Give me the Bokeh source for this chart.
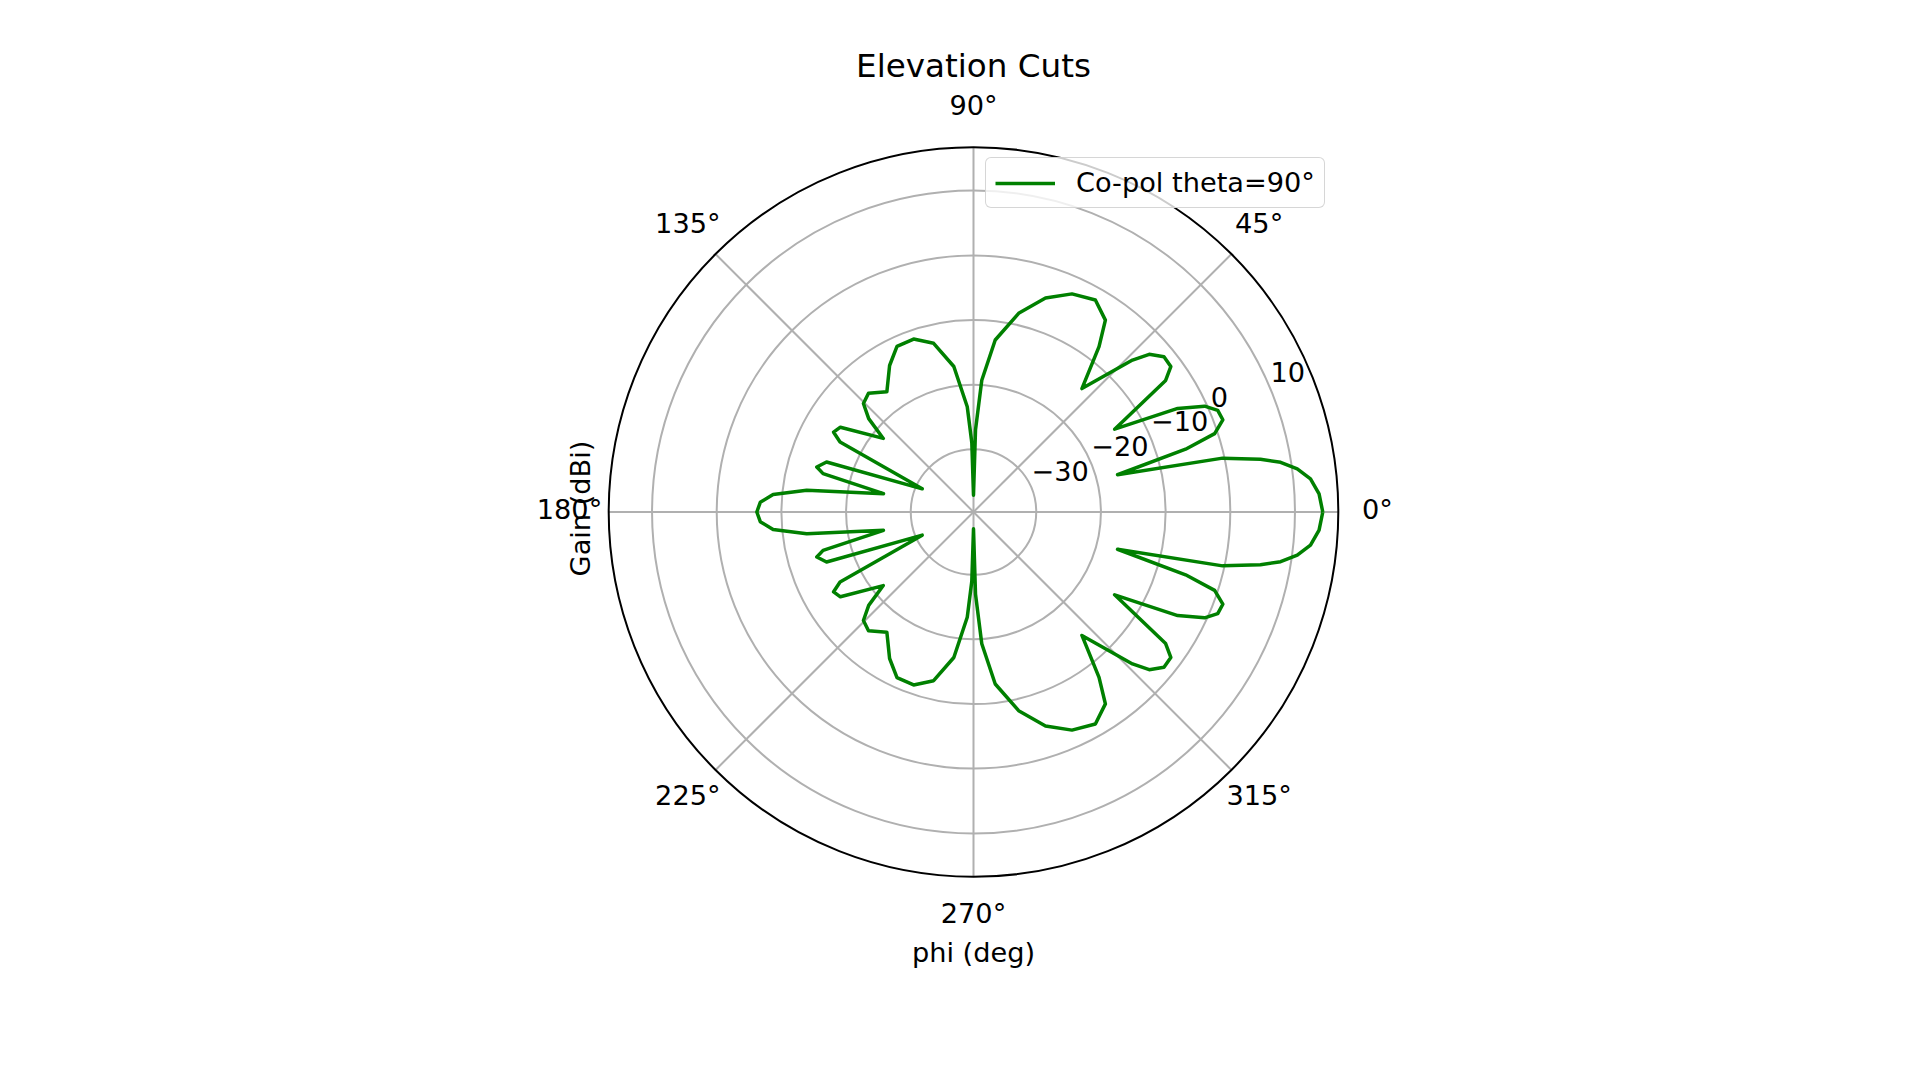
import numpy as np
from bokeh.plotting import figure
from bokeh.models import Range1d, Legend, LegendItem
from bokeh.embed import file_html
from bokeh.resources import INLINE
from bokeh.core.properties import value

# ---------------- data ----------------
title_text = "Elevation Cuts"
x_label = "phi (deg)"
y_label = "Gain (dBi)"
series_name = "Co-pol theta=90°"

# upper half of the cut (phi 0..180 deg), gain in dBi
phi_upper = [0.0, 3.0, 5.6, 7.6, 9.2, 10.4, 12.2, 14.5, 16.5, 18.0, 20.3, 22.6, 24.6, 26.9,
             30.4, 34.4, 36.4, 39.2, 41.9, 43.7, 48.7, 52.8, 55.5, 60.1, 65.7, 71.4,
             77.2, 82.8, 86.4, 88.6, 90.0, 91.4, 93.4, 97.7, 103.3, 109.1, 114.8,
             119.8, 125.8, 131.5, 135.4, 138.3, 140.8, 147.5, 150.3, 152.3, 155.7,
             161.2, 164.0, 165.7, 168.5, 172.6, 175.0, 177.4, 180.0]
gain_upper = [14.3, 13.8, 12.65, 10.8, 8.4, 5.4, -0.3, -16.7, -5.5, -0.5, 1.4, 1.2, -0.4, -4.3,
              -14.4, -3.7, -1.8, -1.7, -3.2, -5.7, -14.3, -7.6, -3.7, -1.9, -2.7, -4.8,
              -8.2, -12.9, -19.3, -27.0, -37.1, -29.0, -23.4, -17.0, -12.9, -11.4, -11.5,
              -13.6, -16.8, -15.2, -15.8, -18.0, -21.7, -15.3, -14.8, -16.4, -31.0,
              -15.7, -14.5, -15.7, -25.5, -13.7, -8.6, -6.7, -6.2]

# lower half of the cut (phi 180..360 deg)
phi_lower = [182.6, 185.0, 187.4, 191.5, 194.3, 196.0, 198.8, 204.3, 207.7, 209.7, 212.5,
             219.2, 221.7, 224.6, 228.5, 234.2, 240.2, 245.2, 250.9, 256.7, 262.3, 266.6,
             268.6, 270.0, 271.4, 273.6, 277.2, 282.8, 288.6, 294.3, 299.9, 304.5, 307.2,
             311.3, 316.3, 318.1, 320.8, 323.6, 325.6, 329.6, 333.1, 335.4, 337.4, 339.7,
             342.0, 343.5, 345.5, 347.8, 349.6, 350.8, 352.4, 354.4, 357.0, 360.0]
gain_lower = [-6.7, -8.6, -13.7, -25.5, -15.7, -14.5, -15.7, -31.0, -16.4, -14.8, -15.3,
              -21.7, -18.0, -15.8, -15.2, -16.8, -13.6, -11.5, -11.4, -12.9, -17.0, -23.4,
              -29.0, -37.1, -27.0, -19.3, -12.9, -8.2, -4.8, -2.7, -1.9, -3.7, -7.6,
              -14.3, -5.7, -3.2, -1.7, -1.8, -3.7, -14.4, -4.3, -0.4, 1.2, 1.4,
              -0.5, -5.5, -16.7, -0.3, 5.4, 8.4, 10.8, 12.65, 13.8, 14.3]

r_ticks = [-30, -20, -10, 0, 10]
r_tick_labels = ["\u221230", "\u221220", "\u221210", "0", "10"]
angle_ticks = [0, 45, 90, 135, 180, 225, 270, 315]
angle_tick_labels = ["0°", "45°", "90°", "135°", "180°", "225°", "270°", "315°"]
r_min, r_max = -39.7, 16.7

# ---------------- geometry (screenshot pixels) ----------------
W, H = 1904, 1064
OFF = 0                        # where the canvas lands in the screenshot
CX, CY = 973.0, 511.5          # centre of the polar axes
R_OUT = 364.8                  # outer radius in pixels
S = R_OUT / (r_max - r_min)    # pixels per dB


def dx(px):
    return (px - CX) / S


def dy(py):
    return (CY - py) / S


FONT_NAME = "DejaVu Sans"
FONT = value(FONT_NAME)
TICK_FS = "27.2px"
TITLE_FS = "32.6px"
GRID_C = "#b0b0b0"

p = figure(width=W, height=H,
           x_range=Range1d(dx(OFF), dx(OFF + W)), y_range=Range1d(dy(OFF + H), dy(OFF)),
           output_backend="svg", toolbar_location=None, min_border=0,
           x_axis_location=None, y_axis_location=None)
p.grid.visible = False
p.outline_line_color = None
p.background_fill_color = "white"
p.border_fill_color = "white"

R = r_max - r_min

# radial grid circles
ring_r = [t - r_min for t in r_ticks]
p.circle(x=[0] * len(ring_r), y=[0] * len(ring_r), radius=ring_r,
         fill_color=None, line_color=GRID_C, line_width=2)

# angular grid lines
ang = np.radians(angle_ticks)
p.segment(x0=[0] * len(ang), y0=[0] * len(ang), x1=list(R * np.cos(ang)),
          y1=list(R * np.sin(ang)), line_color=GRID_C, line_width=2)

# data curve
phi_all = np.radians(np.array(phi_upper + phi_lower))
g_all = np.array(gain_upper + gain_lower)
rr = np.clip(g_all - r_min, 0, None)
curve = p.line(x=list(rr * np.cos(phi_all)), y=list(rr * np.sin(phi_all)),
               line_color="green", line_width=3.5, line_join="round")

# outer spine
p.circle(x=[0], y=[0], radius=[R], fill_color=None, line_color="black", line_width=2)

# angular tick labels
lab_r = 404.0 / S
p.text(x=list(lab_r * np.cos(ang)), y=list(lab_r * np.sin(ang)), text=angle_tick_labels,
       text_align="center", text_baseline="middle", y_offset=-2.5,
       text_font=FONT, text_font_size=TICK_FS, text_color="black")

# radial tick labels at 22.5 deg
a_r = np.radians(22.5)
p.text(x=[r * np.cos(a_r) for r in ring_r], y=[r * np.sin(a_r) for r in ring_r],
       text=r_tick_labels, text_align="left", text_baseline="middle", y_offset=-17,
       text_font=FONT, text_font_size=TICK_FS, text_color="black")

# title and axis labels
p.text(x=[dx(973)], y=[dy(65.5)], text=[title_text], text_align="center",
       text_baseline="middle", text_font=FONT, text_font_size=TITLE_FS, text_color="black")
p.text(x=[dx(973)], y=[dy(952)], text=[x_label], text_align="center",
       text_baseline="middle", text_font=FONT, text_font_size=TICK_FS, text_color="black")
p.text(x=[dx(580)], y=[dy(508)], text=[y_label], angle=np.pi / 2, text_align="center",
       text_baseline="middle", text_font=FONT, text_font_size=TICK_FS, text_color="black")

# legend (location = bottom-left corner, pixels from the frame's bottom-left)
legend_kwargs = {}
if "border_radius" in Legend.properties():
    legend_kwargs["border_radius"] = 6
legend = Legend(items=[LegendItem(label=series_name, renderers=[curve])],
                location=(985 - OFF, H - (208 - OFF)), margin=0, padding=9, spacing=0,
                glyph_width=60, glyph_height=30, label_standoff=21,
                label_text_font=FONT_NAME, label_text_font_size=TICK_FS, label_text_color="black",
                border_line_color="#cccccc", border_line_alpha=0.8, border_line_width=1.5,
                background_fill_color="white", background_fill_alpha=0.8, **legend_kwargs)
p.add_layout(legend, "center")

open("out.html", "w").write(file_html(p, INLINE))
